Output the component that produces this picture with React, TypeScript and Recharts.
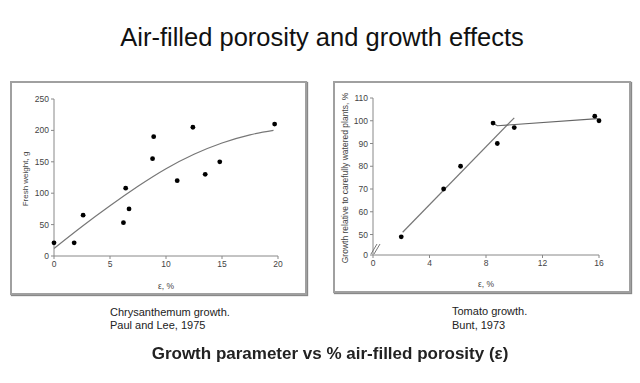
import {
  ComposedChart,
  Line,
  Scatter,
  XAxis,
  YAxis,
} from 'recharts'

// Chrysanthemum (Paul and Lee, 1975)
const chrysPoints = [
  { x: 0, y: 21 },
  { x: 1.8, y: 21 },
  { x: 2.6, y: 65 },
  { x: 6.2, y: 53 },
  { x: 6.4, y: 108 },
  { x: 6.7, y: 75 },
  { x: 8.8, y: 155 },
  { x: 8.9, y: 190 },
  { x: 11, y: 120 },
  { x: 12.4, y: 205 },
  { x: 13.5, y: 130 },
  { x: 14.8, y: 150 },
  { x: 19.7, y: 210 },
]
const chrysFit = [
  { x: 0, y: 12 },
  { x: 2.5, y: 47 },
  { x: 5, y: 80 },
  { x: 7.5, y: 111 },
  { x: 10, y: 139 },
  { x: 12.5, y: 162 },
  { x: 15, y: 180 },
  { x: 17.5, y: 193 },
  { x: 19.6, y: 200 },
]
const chrysXTicks = [0, 5, 10, 15, 20]
const chrysYTicks = [0, 50, 100, 150, 200, 250]

// Tomato (Bunt, 1973)
const tomatoPoints = [
  { x: 2, y: 49 },
  { x: 5, y: 70 },
  { x: 6.2, y: 80 },
  { x: 8.5, y: 99 },
  { x: 8.8, y: 90 },
  { x: 10, y: 97 },
  { x: 15.7, y: 102 },
  { x: 16, y: 100 },
]
const tomatoRise = [
  { x: 2.1, y: 51 },
  { x: 10, y: 101.3 },
]
const tomatoPlateau = [
  { x: 8.6, y: 98.6 },
  { x: 8.8, y: 97.8 },
  { x: 15.9, y: 100.9 },
]
const tomatoXTicks = [0, 4, 8, 12, 16]
// bottom value stands for the broken-axis "0"
const TOMATO_FLOOR = 41
const tomatoYTicks = [TOMATO_FLOOR, 50, 60, 70, 80, 90, 100, 110]

const FONT = '"Liberation Sans", Arial, sans-serif'
const tickStyle = { fontSize: 8.5, fill: '#444', fontFamily: FONT }
const axisStroke = '#888'

const frame: React.CSSProperties = {
  position: 'absolute',
  boxSizing: 'border-box',
  border: '2px solid #a0a0a0',
  boxShadow: '1px 1px 1px #888',
  background: '#fff',
}

function TomatoYTick(props: any) {
  const { x, y, payload } = props
  const floor = payload.value === TOMATO_FLOOR
  const ax = x + 5
  return (
    <g>
      <text x={x} y={y} dy={3} textAnchor="end" {...tickStyle}>
        {floor ? '0' : payload.value}
      </text>
      {floor && (
        <g stroke="#777" strokeWidth={1}>
          <line x1={ax - 2} y1={y - 1} x2={ax + 4} y2={y - 11} />
          <line x1={ax + 1} y1={y - 1} x2={ax + 7} y2={y - 11} />
        </g>
      )}
    </g>
  )
}

const dot = (p: any) => <circle cx={p.cx} cy={p.cy} r={2.4} fill="#000" />

export default function App() {
  return (
    <div
      style={{
        position: 'fixed',
        left: 0,
        top: 0,
        width: 640,
        height: 383,
        background: '#fff',
        fontFamily: FONT,
        color: '#111',
      }}
    >
      <div
        style={{
          position: 'absolute',
          left: 2,
          width: 640,
          top: 22,
          textAlign: 'center',
          fontSize: 25.5,
          lineHeight: '30px',
        }}
      >
        Air-filled porosity and growth effects
      </div>

      {/* left panel */}
      <div style={{ ...frame, left: 10, top: 81, width: 297, height: 214 }}>
        <ComposedChart
          width={293}
          height={210}
          margin={{ top: 16, right: 27, left: 0, bottom: 0 }}
        >
          <XAxis
            type="number"
            dataKey="x"
            domain={[0, 20]}
            ticks={chrysXTicks}
            interval={0}
            tick={tickStyle}
            tickSize={3}
            tickMargin={2}
            stroke={axisStroke}
            height={37}
            label={{
              value: 'ε, %',
              position: 'insideBottom',
              offset: 4,
              fill: '#444',
              style: tickStyle,
            }}
          />
          <YAxis
            type="number"
            dataKey="y"
            domain={[0, 250]}
            ticks={chrysYTicks}
            interval={0}
            tick={tickStyle}
            tickSize={3}
            tickMargin={2}
            stroke={axisStroke}
            width={42}
          />
          <Line
            data={chrysFit}
            dataKey="y"
            type="natural"
            stroke="#777"
            strokeWidth={1.2}
            dot={false}
            isAnimationActive={false}
          />
          <Scatter
            data={chrysPoints}
            fill="#000"
            shape={dot}
            isAnimationActive={false}
          />
        </ComposedChart>
        <div
          style={{
            position: 'absolute',
            left: 13,
            top: 96,
            transform: 'translate(-50%, -50%) rotate(-90deg)',
            fontSize: 8,
            color: '#444',
            whiteSpace: 'nowrap',
          }}
        >
          Fresh weight, g
        </div>
      </div>

      {/* right panel */}
      <div style={{ ...frame, left: 333, top: 81, width: 298, height: 212 }}>
        <ComposedChart
          width={294}
          height={208}
          margin={{ top: 15, right: 30, left: 0, bottom: 0 }}
        >
          <XAxis
            type="number"
            dataKey="x"
            domain={[0, 16]}
            ticks={tomatoXTicks}
            interval={0}
            tick={tickStyle}
            tickSize={3}
            tickMargin={2}
            stroke={axisStroke}
            height={36}
            label={{
              value: 'ε, %',
              position: 'insideBottom',
              offset: 4,
              fill: '#444',
              style: tickStyle,
            }}
          />
          <YAxis
            type="number"
            dataKey="y"
            domain={[TOMATO_FLOOR, 110]}
            ticks={tomatoYTicks}
            interval={0}
            tick={<TomatoYTick />}
            tickSize={3}
            tickMargin={2}
            stroke={axisStroke}
            width={38}
          />
          <Line
            data={tomatoRise}
            dataKey="y"
            type="linear"
            stroke="#777"
            strokeWidth={1.2}
            dot={false}
            isAnimationActive={false}
          />
          <Line
            data={tomatoPlateau}
            dataKey="y"
            type="linear"
            stroke="#666"
            strokeWidth={1.2}
            dot={false}
            isAnimationActive={false}
          />
          <Scatter
            data={tomatoPoints}
            fill="#000"
            shape={dot}
            isAnimationActive={false}
          />
        </ComposedChart>
        <div
          style={{
            position: 'absolute',
            left: 10,
            top: 95,
            transform: 'translate(-50%, -50%) rotate(-90deg)',
            fontSize: 8.5,
            color: '#444',
            whiteSpace: 'nowrap',
          }}
        >
          Growth relative to carefully watered plants, %
        </div>
      </div>

      <div
        style={{
          position: 'absolute',
          left: 110,
          top: 306,
          fontSize: 11,
          lineHeight: '13px',
          color: '#222',
        }}
      >
        Chrysanthemum growth.
        <br />
        Paul and Lee, 1975
      </div>
      <div
        style={{
          position: 'absolute',
          left: 452,
          top: 304,
          fontSize: 11,
          lineHeight: '14px',
          color: '#222',
        }}
      >
        Tomato growth.
        <br />
        Bunt, 1973
      </div>

      <div
        style={{
          position: 'absolute',
          left: 0,
          width: 660,
          top: 344,
          textAlign: 'center',
          fontSize: 17,
          fontWeight: 'bold',
          lineHeight: '20px',
          color: '#222',
        }}
      >
        Growth parameter vs % air-filled porosity (ε)
      </div>
    </div>
  )
}
